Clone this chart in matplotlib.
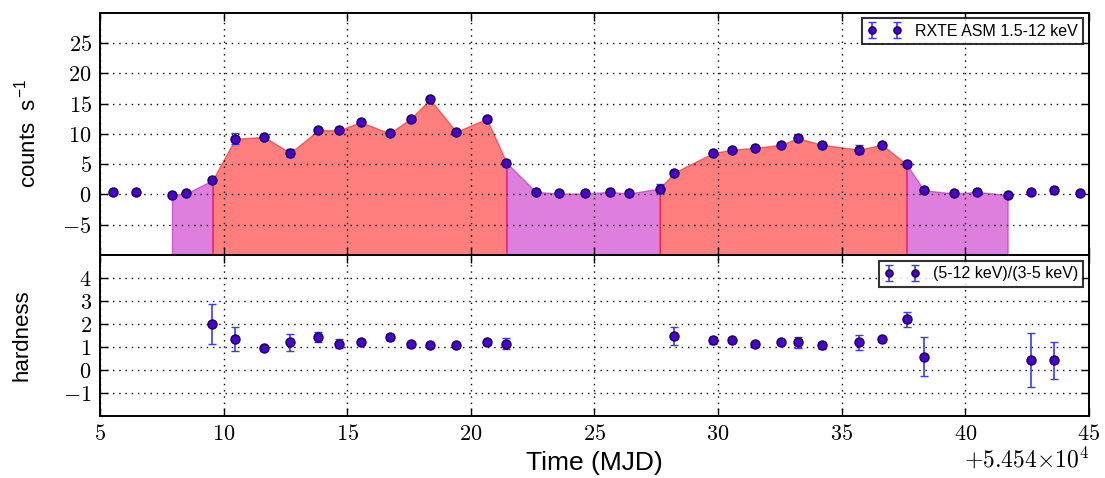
'''
RXTE ASM light curve and hardness ratio
'''

import numpy as np
import matplotlib
matplotlib.use('Agg')
import matplotlib.pyplot as plt
from matplotlib.ticker import FuncFormatter

plt.rcParams['font.family'] = ['Liberation Sans', 'DejaVu Sans']
plt.rcParams['mathtext.fontset'] = 'cm'

# time offset (MJD) and the observation times relative to it
mjd0 = 54540
t_rel = [5.51, 6.47, 7.91, 8.49, 9.55, 10.47, 11.64, 12.69, 13.83, 14.68,
         15.54, 16.71, 17.56, 18.35, 19.41, 20.64, 21.44, 22.63, 23.57, 24.62,
         25.61, 26.39, 27.64, 28.22, 29.80, 30.58, 31.50, 32.55, 33.22, 34.21,
         35.69, 36.63, 37.62, 38.33, 39.56, 40.49, 41.71, 42.66, 43.57, 44.62]

# ASM 1.5-12 keV count rate
rate = [0.43, 0.43, -0.1, 0.16, 2.35, 9.2, 9.5, 6.85, 10.6, 10.6,
        11.95, 10.1, 12.5, 15.7, 10.35, 12.5, 5.26, 0.43, 0.16, 0.16,
        0.43, 0.16, 0.98, 3.6, 6.85, 7.4, 7.7, 8.2, 9.3, 8.2,
        7.4, 8.2, 4.98, 0.7, 0.16, 0.43, -0.1, 0.43, 0.7, 0.16]
rate_err = [0.3, 0.3, 0.3, 0.3, 0.3, 0.95, 0.3, 0.6, 0.3, 0.3,
            0.3, 0.3, 0.3, 0.3, 0.3, 0.3, 0.3, 0.3, 0.3, 0.3,
            0.3, 0.3, 0.8, 0.3, 0.3, 0.3, 0.3, 0.3, 0.4, 0.3,
            0.8, 0.3, 0.3, 0.3, 0.3, 0.3, 0.3, 0.3, 0.3, 0.3]

# hardness ratio (5-12 keV)/(3-5 keV), nan where not available
nan = np.nan
hard = [nan, nan, nan, nan, 1.99, 1.35, 0.93, 1.2, 1.41, 1.13,
        1.22, 1.43, 1.13, 1.06, 1.06, 1.2, 1.13, nan, nan, nan,
        nan, nan, nan, 1.49, 1.29, 1.28, 1.13, 1.2, 1.2, 1.06,
        1.2, 1.35, 2.2, 0.57, nan, nan, nan, 0.42, 0.42, nan]
hard_err = [nan, nan, nan, nan, 0.86, 0.51, 0.05, 0.37, 0.22, 0.2,
            0.07, 0.15, 0.05, 0.03, 0.05, 0.1, 0.24, nan, nan, nan,
            nan, nan, nan, 0.39, 0.15, 0.05, 0.07, 0.07, 0.23, 0.15,
            0.33, 0.07, 0.33, 0.85, nan, nan, nan, 1.17, 0.81, nan]

# spectral state intervals (relative MJD): hard = magenta, soft = red
state_start = [7.91, 9.55, 21.44, 27.64, 37.62]
state_end = [9.55, 21.44, 27.64, 37.62, 41.71]
state_color = ['m', 'r', 'm', 'r', 'm']

t = mjd0 + np.array(t_rel)
rate = np.array(rate)
hard = np.array(hard)
hard_err = np.array(hard_err)

fig = plt.figure(figsize=(11.05, 4.78), dpi=100)
ax1 = fig.add_axes([0.0905, 0.4665, 0.895, 0.5069])
ax2 = fig.add_axes([0.0905, 0.1303, 0.895, 0.3362], sharex=ax1)

# shaded states
for s0, s1, c in zip(state_start, state_end, state_color):
    m = (t >= mjd0 + s0) & (t <= mjd0 + s1)
    ax1.fill_between(t[m], rate[m], -10, color=c, alpha=0.5, lw=1, zorder=1)

ebar = dict(fmt='o', ms=6.5, mfc='#4a00d0', mec='#1a0050', mew=1,
            ecolor='#3a3aff', elinewidth=1.2, capsize=3, capthick=1.2, zorder=3)
ax1.errorbar(t, rate, yerr=rate_err, label='RXTE ASM 1.5-12 keV', **ebar)
ok = ~np.isnan(hard)
ax2.errorbar(t[ok], hard[ok], yerr=hard_err[ok], label='(5-12 keV)/(3-5 keV)', **ebar)

ax1.set_ylim(-10, 30)
ax1.set_yticks(range(-5, 30, 5))
ax2.set_ylim(-2, 5)
ax2.set_yticks(range(-1, 5))
ax2.set_xlim(mjd0 + 5, mjd0 + 45)
ax2.set_xticks(mjd0 + np.arange(5, 46, 5))

mathfmt = FuncFormatter(lambda v, p: '$%g$' % v)
relfmt = FuncFormatter(lambda v, p: '$%g$' % round(v - mjd0, 6))
for ax in (ax1, ax2):
    ax.yaxis.set_major_formatter(mathfmt)
    ax.tick_params(direction='in', length=6, width=1, top=True, right=True,
                   labelsize=16, pad=6)
    ax.grid(True, color='k', linestyle=(0, (1, 3.5)), linewidth=1)
    for sp in ax.spines.values():
        sp.set_linewidth(1.4)
ax2.xaxis.set_major_formatter(relfmt)
plt.setp(ax1.get_xticklabels(), visible=False)

ax1.set_ylabel('counts  s$^{\\mathregular{-1}}$', fontsize=16, labelpad=15)
ax2.set_ylabel('hardness', fontsize=16, labelpad=22)
ax2.set_xlabel('Time (MJD)', fontsize=19, labelpad=4)
ax2.text(1.0, -0.265, r'$+5.454{\times}10^{4}$', transform=ax2.transAxes,
         ha='right', va='center', fontsize=17)

for ax in (ax1, ax2):
    leg = ax.legend(loc='upper right', numpoints=2, fontsize=11.5, fancybox=False,
                    borderaxespad=0.35, handlelength=2.2, borderpad=0.35,
                    markerscale=0.8)
    leg.get_frame().set_edgecolor('k')
    leg.get_frame().set_linewidth(1.5)

fig.savefig('out.png', dpi=100)
